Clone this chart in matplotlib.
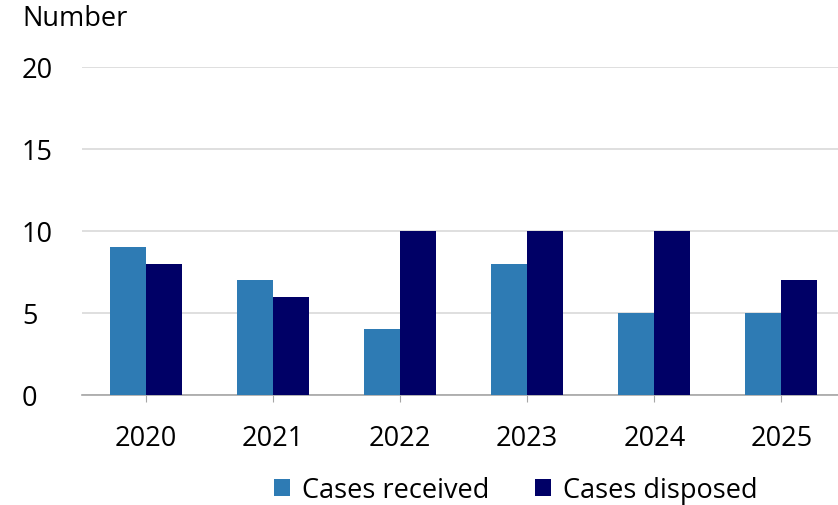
import matplotlib
matplotlib.use("Agg")
import matplotlib.pyplot as plt
import numpy as np

years = ["2020", "2021", "2022", "2023", "2024", "2025"]
received = [9, 7, 4, 8, 5, 5]
disposed = [8, 6, 10, 10, 10, 7]

plt.rcParams['font.family'] = ['Open Sans', 'DejaVu Sans']

W, H = 838, 506
fig = plt.figure(figsize=(W/100, H/100), dpi=100)
left, right = 82, 845
top, bottom = 68, 396
ax = fig.add_axes([left/W, 1 - bottom/H, (right-left)/W, (bottom-top)/H])

x = np.arange(len(years))
bw = 0.283
c1, c2 = "#2E7BB4", "#000066"
ax.bar(x - bw/2, received, bw, color=c1, label="Cases received", zorder=3)
ax.bar(x + bw/2, disposed, bw, color=c2, label="Cases disposed", zorder=3)

FS = 19.5
ax.set_xlim(-0.5, 5.5)
ax.set_ylim(0, 20)
ax.set_yticks([0, 5, 10, 15, 20])
ax.yaxis.grid(True, color="#D9D9D9", linewidth=1.2, zorder=0)
ax.set_axisbelow(True)
for s in ["top", "right", "left"]:
    ax.spines[s].set_visible(False)
ax.spines["bottom"].set_color("#A6A6A6")
ax.spines["bottom"].set_linewidth(1.2)
ax.set_xticks(x)
ax.set_xticklabels(years)
ax.tick_params(axis="x", length=5, color="#A6A6A6", labelsize=FS, pad=16)
ax.tick_params(axis="y", length=0, labelsize=FS, pad=(82 - 22) * 0.72)
for lab in ax.get_yticklabels():
    lab.set_horizontalalignment("left")

fig.text(22/W, 1 - 19/H, "Number", fontsize=FS, va="center", ha="left")

leg = fig.legend(loc="center", bbox_to_anchor=(516/W, 1 - 491/H), ncol=2, frameon=False,
                 fontsize=FS, handlelength=0.58, handleheight=0.58, handletextpad=0.45,
                 columnspacing=1.7)

fig.savefig("out.png", dpi=100)
